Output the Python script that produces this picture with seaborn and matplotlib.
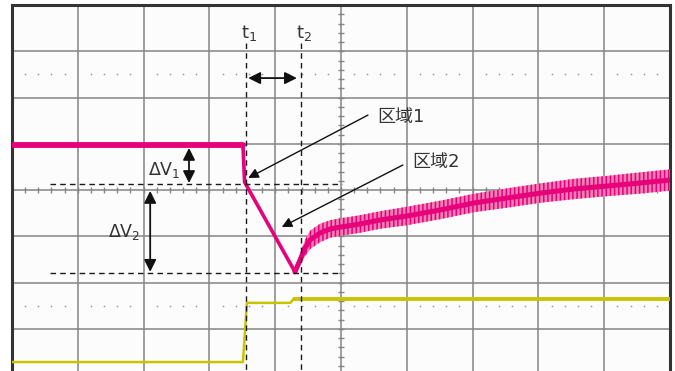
import numpy as np
import pandas as pd
import matplotlib
matplotlib.use("Agg")
import matplotlib.pyplot as plt
import seaborn as sns

# ---- data (screen divisions: x -5..5, y -4..4) ----
pink_flat_x = [-5.0, -1.49]
pink_flat_y = [0.973, 0.973]
pink_drop_x = [-1.49, -1.465, -0.70]
pink_drop_y = [0.973, 0.17, -1.77]
rec_x = [-0.70, -0.623, -0.547, -0.471, -0.319, -0.167, 0.0, 0.289, 0.593, 1.003,
         1.505, 2.021, 2.523, 3.040, 3.541, 4.043, 4.544, 5.0]
rec_y = [-1.77, -1.514, -1.254, -1.081, -0.930, -0.843, -0.800, -0.735, -0.649, -0.562,
         -0.432, -0.281, -0.173, -0.065, 0.022, 0.086, 0.151, 0.216]
rec_half = [0.03, 0.12, 0.18, 0.20, 0.20, 0.19, 0.19, 0.19, 0.19, 0.20,
            0.20, 0.20, 0.21, 0.21, 0.22, 0.22, 0.23, 0.23]
yel_x = [-5.0, -1.49, -1.43, -0.77, -0.72]
yel_y = [-3.72, -3.72, -2.44, -2.44, -2.36]
yel2_x = [-0.72, 5.0]
yel2_y = [-2.36, -2.36]

t_pos = [-1.444, -0.608]
t_labels = [r"$\mathregular{t_1}$", r"$\mathregular{t_2}$"]
dv_levels = [0.13, -1.79]
region_labels = ["区域1", "区域2"]

PINK = "#e6007a"
YEL = "#c8c400"
TXT = "#333333"

sns.set_theme(style="white")
plt.rcParams["font.family"] = ["DejaVu Sans", "Noto Sans CJK SC"]
plt.rcParams["hatch.linewidth"] = 1.1

fig = plt.figure(figsize=(6.75, 3.71), dpi=100)
fig.patch.set_facecolor("white")
ax = fig.add_axes([12 / 675, -4 / 371, 658 / 675, 370 / 371])
ax.set_xlim(-5, 5)
ax.set_ylim(-4, 4)
ax.set_facecolor("#fcfcfc")
ax.set_xticks([])
ax.set_yticks([])
for s in ["left", "top", "right"]:
    ax.spines[s].set_color("#333333")
    ax.spines[s].set_linewidth(2.2)
ax.spines["bottom"].set_visible(False)

# graticule
for gx in range(-4, 5):
    ax.axvline(gx, color="#858585", lw=1.1, zorder=1)
for gy in range(-3, 4):
    ax.axhline(gy, color="#858585", lw=1.1, zorder=1)
mt = np.round(np.arange(-5, 5.01, 0.2), 2)
ax.vlines(mt, -0.065, 0.065, color="#858585", lw=1.0, zorder=1)
mty = np.round(np.arange(-4, 4.01, 0.2), 2)
ax.hlines(mty, -0.05, 0.05, color="#858585", lw=1.0, zorder=1)
dots = mt[np.abs(mt - np.round(mt)) > 1e-6]
for yy in (2.5, -2.5):
    ax.scatter(dots, np.full(len(dots), yy), s=1.5, color="#9a9a9a", zorder=1, linewidths=0)

# traces
sns.lineplot(x=pink_flat_x, y=pink_flat_y, ax=ax, color=PINK, lw=4.2, sort=False,
             estimator=None, zorder=5)
sns.lineplot(x=pink_drop_x, y=pink_drop_y, ax=ax, color=PINK, lw=2.6, sort=False,
             estimator=None, zorder=5)
ry = np.array(rec_y)
rh = np.array(rec_half)
ax.fill_between(rec_x, ry - rh, ry + rh, facecolor="#f280b6", edgecolor=PINK,
                hatch="||||", lw=0, zorder=4)
sns.lineplot(x=rec_x, y=rec_y, ax=ax, color=PINK, lw=3.6, sort=False,
             estimator=None, zorder=5)
sns.lineplot(x=yel_x, y=yel_y, ax=ax, color=YEL, lw=1.8, sort=False,
             estimator=None, zorder=5)
sns.lineplot(x=yel2_x, y=yel2_y, ax=ax, color=YEL, lw=2.8, sort=False,
             estimator=None, zorder=5)

# cursors
for tx, tl in zip(t_pos, t_labels):
    ax.plot([tx, tx], [3.18, -4], color="#1a1a1a", lw=1.0, ls=(0, (4, 3)), zorder=6)
    ax.text(tx + 0.04, 3.29, tl, ha="center", va="baseline", fontsize=13, color=TXT)
for lv in dv_levels:
    ax.plot([-4.42, 0.015], [lv, lv], color="#1a1a1a", lw=1.0, ls=(0, (4, 3)), zorder=6)

arr2 = dict(arrowstyle="<|-|>", mutation_scale=18, color="#111111", lw=1.3,
            shrinkA=0, shrinkB=0)
ax.annotate("", xy=(-1.41, 2.42), xytext=(-0.67, 2.42), arrowprops=arr2, zorder=7)
ax.annotate("", xy=(-2.31, 0.91), xytext=(-2.31, 0.15), arrowprops=arr2, zorder=7)
ax.annotate("", xy=(-2.90, -0.02), xytext=(-2.90, -1.77), arrowprops=arr2, zorder=7)

ax.text(-2.93, 0.32, r"$\mathregular{\Delta V_1}$", fontsize=12.5, color=TXT,
        ha="left", va="baseline")
ax.text(-3.54, -1.02, r"$\mathregular{\Delta V_2}$", fontsize=12.5, color=TXT,
        ha="left", va="baseline")

arr1 = dict(arrowstyle="-|>", mutation_scale=15, color="#111111", lw=1.0,
            shrinkA=0, shrinkB=0)
ax.annotate("", xy=(-1.41, 0.26), xytext=(0.41, 1.62), arrowprops=arr1, zorder=7)
ax.annotate("", xy=(-0.90, -0.80), xytext=(0.94, 0.54), arrowprops=arr1, zorder=7)
ax.text(0.547, 1.58, region_labels[0], fontsize=13, color=TXT, ha="left", va="center")
ax.text(1.08, 0.605, region_labels[1], fontsize=13, color=TXT, ha="left", va="center")

fig.savefig("out.png", dpi=100)
